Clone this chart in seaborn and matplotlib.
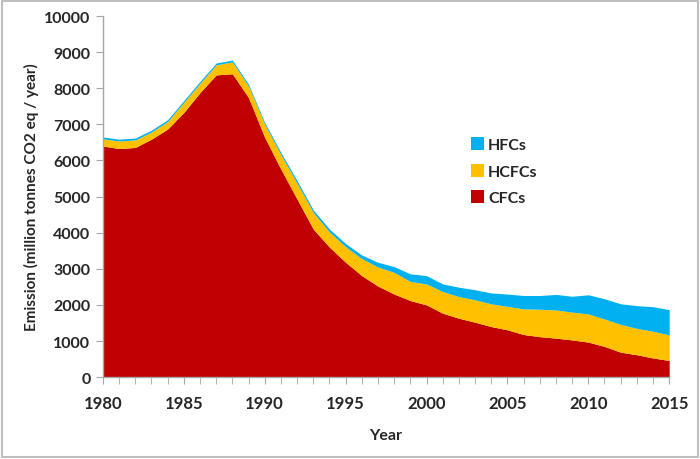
import numpy as np
import pandas as pd
import seaborn as sns
import matplotlib.pyplot as plt
from matplotlib.patches import Patch, Rectangle

# Emission by gas group (million tonnes CO2 eq / year)
years = list(range(1980, 2016))
cfcs = [6400, 6330, 6360, 6590, 6870, 7330, 7880, 8370, 8400, 7740,
        6640, 5760, 4930, 4100, 3600, 3180, 2810, 2520, 2300, 2120,
        2000, 1770, 1630, 1520, 1400, 1310, 1180, 1120, 1080, 1030,
        970, 850, 690, 620, 530, 460]
hcfcs = [200, 210, 210, 200, 210, 280, 260, 280, 330, 320,
         360, 400, 440, 460, 420, 430, 470, 530, 600, 530,
         580, 600, 600, 620, 630, 650, 710, 760, 780, 770,
         780, 760, 770, 730, 740, 710]
hfcs = [50, 50, 50, 50, 50, 50, 50, 50, 50, 50,
        50, 60, 70, 70, 80, 90, 100, 130, 160, 210,
        230, 210, 260, 280, 300, 340, 370, 380, 430, 440,
        530, 560, 570, 630, 680, 700]
series = ['CFCs', 'HCFCs', 'HFCs']
colors = ['#C00000', '#FFC000', '#00B0F0']

df = pd.DataFrame({'Year': years, 'CFCs': cfcs, 'HCFCs': hcfcs, 'HFCs': hfcs})

sns.set_style('white')
plt.rcParams['font.family'] = ['Lato', 'DejaVu Sans']

fig = plt.figure(figsize=(7, 4.6), dpi=100, facecolor='white')
ax = fig.add_axes([0.147, 0.178, 0.809, 0.785])

ax.stackplot(df['Year'], [df[s] for s in series], colors=colors, lw=0)

ax.set_xlim(1980, 2015)
ax.set_ylim(0, 10000)
ax.set_yticks(np.arange(0, 10001, 1000))
ax.set_xticks(np.arange(1980, 2016, 5))
ax.set_xticks(years, minor=True)

for sp in ['top', 'right']:
    ax.spines[sp].set_visible(False)
for sp in ['left', 'bottom']:
    ax.spines[sp].set_color('#a6a6a6')
    ax.spines[sp].set_linewidth(1)

ax.tick_params(axis='y', which='major', length=5, color='#a6a6a6', direction='out',
               left=True, labelsize=11.5, pad=4)
ax.tick_params(axis='x', which='both', length=5, color='#a6a6a6', direction='out',
               bottom=True, labelsize=12, pad=8)
for lbl in ax.get_xticklabels() + ax.get_yticklabels():
    lbl.set_fontweight('bold')
    lbl.set_color('#262626')

ax.set_xlabel('Year', fontsize=11.5, fontweight='bold', color='#262626', labelpad=12)
ax.set_ylabel('Emission (million tonnes CO2 eq / year)', fontsize=11, fontweight='bold',
              color='#262626', labelpad=4)

handles = [Patch(facecolor=colors[i], edgecolor='none', label=series[i]) for i in [2, 1, 0]]
ax.legend(handles=handles, loc='upper left', bbox_to_anchor=(0.625, 0.705), frameon=False,
          handlelength=0.8, handleheight=0.9, handletextpad=0.25,
          labelspacing=0.72, prop={'weight': 'bold', 'size': 11.5})

# grey frame around the whole picture
fig.patches.append(Rectangle((0.003, 0.004), 0.994, 0.992, transform=fig.transFigure,
                             fill=False, edgecolor='#bfbfbf', lw=1.5))

fig.savefig('out.png', dpi=100, facecolor='white')
